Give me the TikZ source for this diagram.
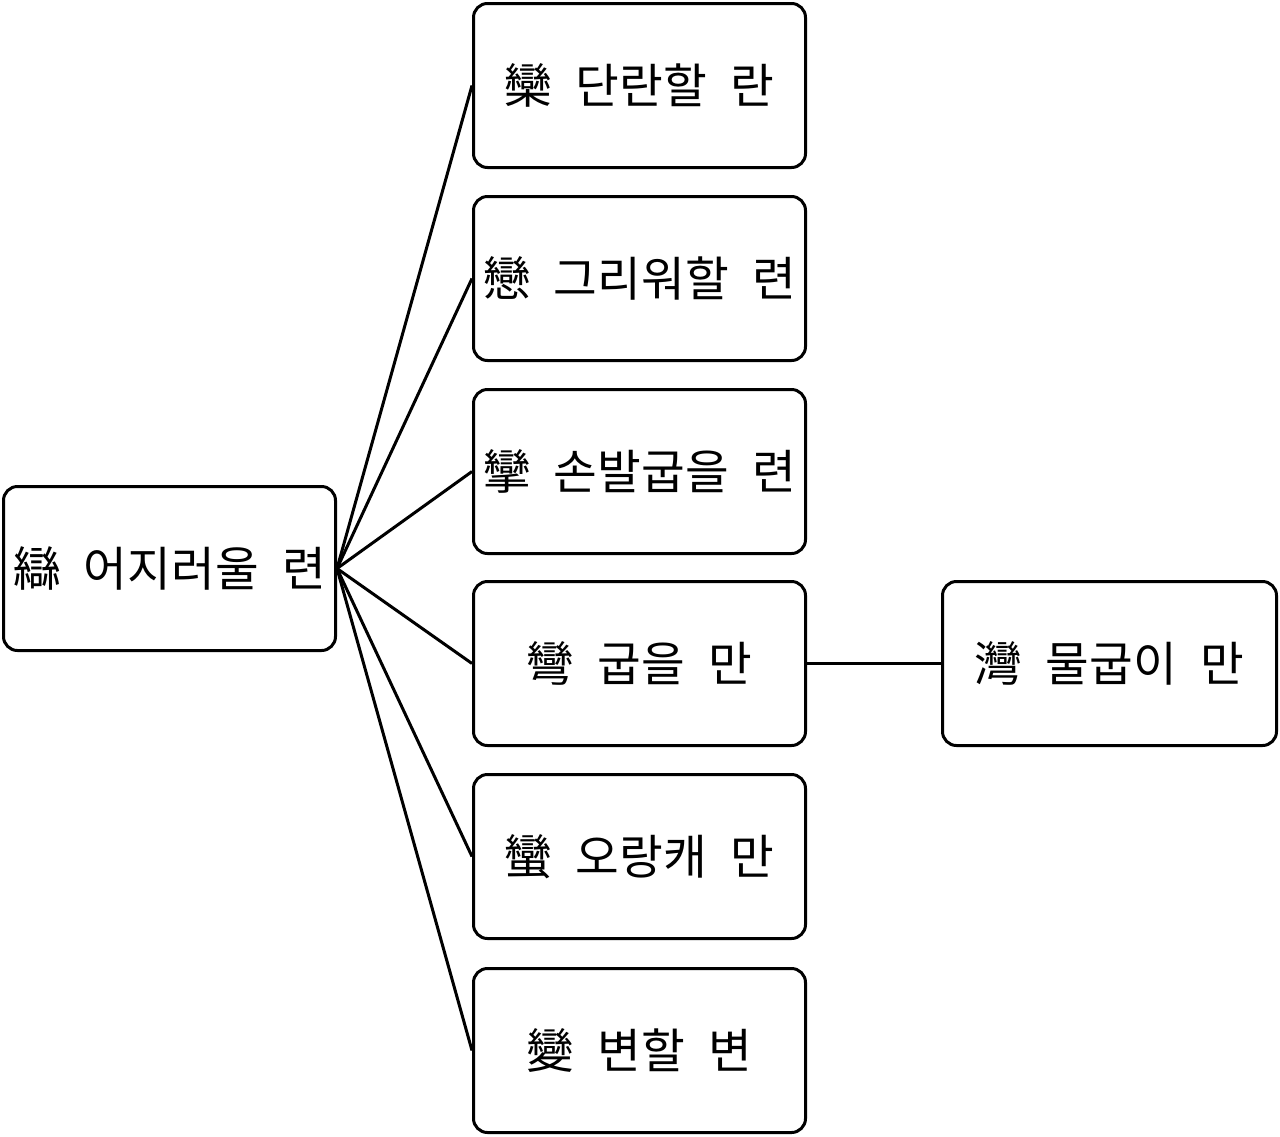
\documentclass[tikz,border=0pt]{standalone}
\usepackage{fontspec}
\newfontfamily\kr[WordSpace=2.2]{Noto Sans CJK KR}
\begin{document}
\begin{tikzpicture}[x=1pt,y=-1pt,
  box/.style={draw=black,line width=3pt,rounded corners=14pt,minimum width=332pt,minimum height=164pt,inner sep=0pt,font=\kr\fontsize{47.5}{56}\selectfont,fill=white},
  link/.style={line width=3pt,draw=black}]
\useasboundingbox[fill=white] (0,0) rectangle (1280,1136);
\node[box] (root) at (169.5,568.5) {䜌 어지러울 련};
\node[box] (a) at (639.5,85.5) {欒 단란할 란};
\node[box] (b) at (639.5,278.5) {戀 그리워할 련};
\node[box] (c) at (639.5,471.5) {攣 손발굽을 련};
\node[box] (d) at (639.5,663.5) {彎 굽을 만};
\node[box] (e) at (639.5,856.5) {蠻 오랑캐 만};
\node[box] (f) at (639.5,1050.5) {變 변할 변};
\node[box,minimum width=334pt] (g) at (1109.5,663.5) {灣 물굽이 만};
\foreach \t in {a,b,c,d,e,f} \draw[link] (root.east) -- (\t.west);
\draw[link] (d.east) -- (g.west);
\end{tikzpicture}
\end{document}
